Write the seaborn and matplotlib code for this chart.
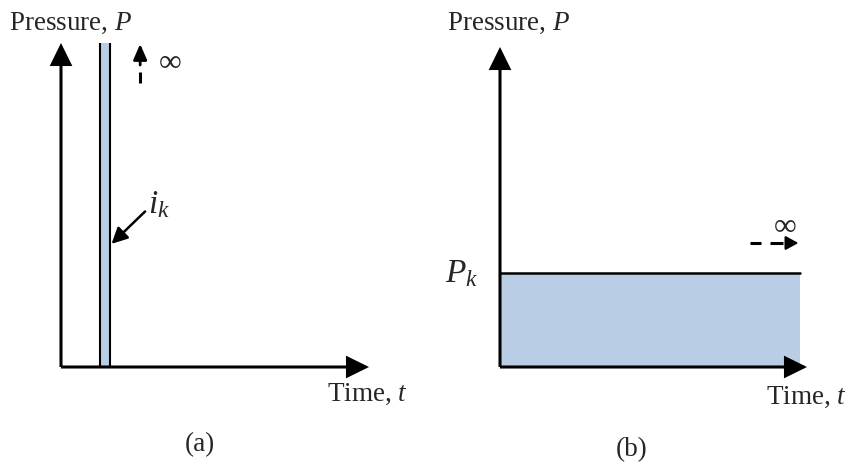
import numpy as np
import pandas as pd
import matplotlib
matplotlib.use("Agg")
import matplotlib.pyplot as plt
import seaborn as sns

# schematic values (axis units 0..10 on both axes)
impulse_t = [1.25, 1.58]      # left / right edge of the impulse i_k
impulse_top = 10.0            # goes up to the arrow tip -> infinite
step_t = [0.0, 9.77]          # constant pressure from t=0 onwards
step_P = [2.94, 2.94]         # level P_k
fill_color = "#b9cde5"

sns.set_style("white")
plt.rcParams["font.family"] = ["Liberation Serif", "DejaVu Serif"]
plt.rcParams["mathtext.fontset"] = "custom"
plt.rcParams["mathtext.rm"] = "Liberation Serif"
plt.rcParams["mathtext.it"] = "Liberation Serif:italic"

W, H = 848, 463
fig = plt.figure(figsize=(W / 100, H / 100), dpi=100)
fig.patch.set_facecolor("white")


def axis_arrows(ax, xtip, ytip):
    head = "-|>,head_length=0.65,head_width=0.32"
    for xy in [(xtip, 0), (0, ytip)]:
        ax.annotate("", xy=xy, xytext=(0, 0),
                    arrowprops=dict(arrowstyle=head, lw=2.2, color="k",
                                    shrinkA=0, shrinkB=0, mutation_scale=20,
                                    joinstyle="miter", capstyle="butt"))


def small_arrow(ax, start, tip, lw=1.8, scale=14, hl=0.6, hw=0.3):
    ax.annotate("", xy=tip, xytext=start,
                arrowprops=dict(arrowstyle=f"-|>,head_length={hl},head_width={hw}",
                                lw=lw, color="k", shrinkA=0, shrinkB=0,
                                mutation_scale=scale))


# ---------- (a) impulse ----------
ax_a = fig.add_axes([61 / W, (H - 367) / H, 308 / W, 324 / H])
ax_a.set_xlim(0, 10)
ax_a.set_ylim(0, 10)
ax_a.axis("off")
ax_a.fill_between(impulse_t, 0, impulse_top, color=fill_color, lw=0)
ax_a.vlines(impulse_t, 0, impulse_top, colors="k", lw=1.5)
axis_arrows(ax_a, 10, 10)

# dashed "goes to infinity" arrow
ax_a.plot([2.57, 2.57], [8.77, 9.10], color="k", lw=2.2, solid_capstyle="butt")
small_arrow(ax_a, (2.57, 9.32), (2.57, 9.97), lw=2.0, scale=14, hl=0.67, hw=0.29)
ax_a.text(3.54, 9.38, "∞", fontsize=23, ha="center", va="center")

# i_k label with arrow
ax_a.text(2.82, 5.0, r"$i_k$", fontsize=24, ha="left", va="center")
small_arrow(ax_a, (2.73, 4.8), (1.64, 3.8), lw=1.8, scale=16)

ax_a.text(-1.69, 10.62, "Pressure, $P$", fontsize=19.5, ha="left", va="center")
ax_a.text(11.27, -0.86, "Time, $t$", fontsize=19.5, ha="right", va="center")
ax_a.text(4.51, -2.41, "(a)", fontsize=19.5, ha="center", va="center")

# ---------- (b) constant pressure ----------
ax_b = fig.add_axes([500 / W, (H - 367) / H, 307 / W, 320 / H])
ax_b.set_xlim(0, 10)
ax_b.set_ylim(0, 10)
ax_b.axis("off")
ax_b.fill_between(step_t, 0, step_P, color=fill_color, lw=0)
df_step = pd.DataFrame({"t": step_t, "P": step_P})
sns.lineplot(data=df_step, x="t", y="P", ax=ax_b, color="k", lw=1.8)
axis_arrows(ax_b, 10, 10)

# dashed "goes to infinity" arrow
ax_b.plot([8.14, 8.50], [3.875, 3.875], color="k", lw=2.2, solid_capstyle="butt")
ax_b.plot([8.79, 9.22], [3.875, 3.875], color="k", lw=2.2, solid_capstyle="butt")
small_arrow(ax_b, (9.34, 3.875), (9.72, 3.875), lw=1.5, scale=14, hl=0.55, hw=0.3)
ax_b.text(9.28, 4.375, "∞", fontsize=23, ha="center", va="center")

ax_b.text(-0.72, 2.9, r"$P_k$", fontsize=24, ha="right", va="center")
ax_b.text(-1.73, 10.75, "Pressure, $P$", fontsize=19.5, ha="left", va="center")
ax_b.text(11.30, -0.94, "Time, $t$", fontsize=19.5, ha="right", va="center")
ax_b.text(4.30, -2.59, "(b)", fontsize=19.5, ha="center", va="center")

for ax in (ax_a, ax_b):
    for t in ax.texts:
        t.set_clip_on(False)
    ax.set_xlabel("")
    ax.set_ylabel("")

fig.savefig("out.png", dpi=100, facecolor="white")
